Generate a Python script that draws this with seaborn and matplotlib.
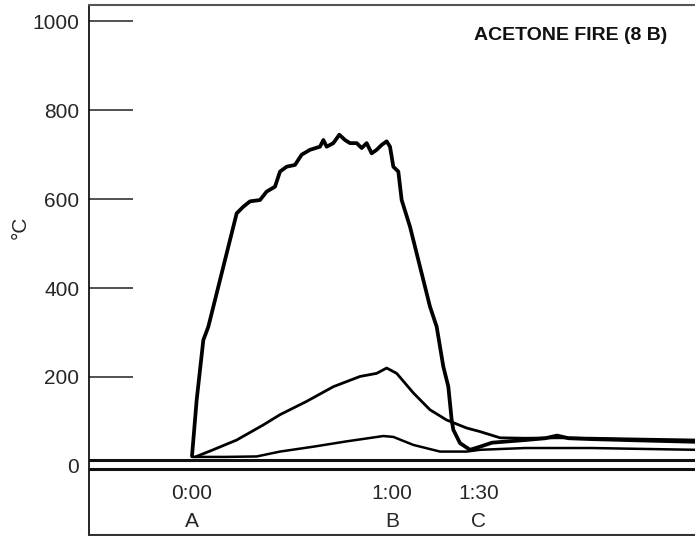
import numpy as np
import pandas as pd
import seaborn as sns
import matplotlib.pyplot as plt

# ---- Data (time in s, temperature in °C) ----
big_t = [0, 1.4, 3.4, 4.9, 6.4, 9.4, 11.4, 12.4, 13.4, 15.4, 17.4, 20.4, 22.4, 24.9,
         26.4, 28.4, 30.9, 32.9, 35.4, 38.4, 39.4, 40.4, 42.4, 44.2, 45.9, 47.4, 49.4,
         50.9, 52.4, 53.9, 55.4, 56.9, 58.4, 59.4, 60.4, 61.9, 62.9, 65.4, 68.4, 71.4,
         73.4, 75.4, 76.9, 77.9, 78.4, 80.4, 83.4, 86.4, 90, 100, 106, 109.5, 113, 120,
         135, 151]
big_temp = [22, 148, 283, 313, 358, 448, 508, 538, 568, 583, 595, 598, 617, 628,
            662, 673, 677, 700, 711, 718, 733, 718, 726, 745, 733, 726, 726,
            715, 726, 703, 711, 722, 730, 718, 673, 662, 598, 538, 448, 358,
            313, 223, 178, 103, 81, 51, 36, 43, 52, 58, 62, 68, 62, 60,
            57, 54]

mid_t = [1, 6, 13.4, 21.4, 26.4, 34.4, 42.4, 50.4, 55.4, 58.4, 61.4, 66.4, 71.4,
         76.4, 82.4, 86.4, 92.4, 100, 110, 120, 135, 151]
mid_temp = [20, 35, 58, 92, 115, 145, 178, 201, 208, 220, 208, 164, 126,
            103, 85, 77, 63, 62, 63, 62, 60, 58]

low_t = [0, 10, 19.4, 26.4, 36.4, 46.4, 57.4, 60.4, 66.4, 74.4, 82.4, 86.4, 100,
         120, 135, 151]
low_temp = [20, 20, 21, 32, 43, 55, 67, 65, 47, 32, 32, 36, 40,
            40, 38, 36]

baseline_levels = [14, -8]

y_ticks = [0, 200, 400, 600, 800, 1000]
x_ticks = [0, 60, 86]
x_labels = ["0:00\nA", "1:00\nB", "1:30\nC"]
title = "ACETONE FIRE (8 B)"

# ---- Style ----
sns.set_style("white")
plt.rcParams['font.family'] = ['Liberation Sans', 'DejaVu Sans']

fig = plt.figure(figsize=(6.95, 5.36), dpi=100)
ax = fig.add_axes([89 / 695, 1 / 536, 606 / 695, 530 / 536])

# curves
sns.lineplot(x=big_t, y=big_temp, ax=ax, color='black', lw=2.7)
sns.lineplot(x=mid_t, y=mid_temp, ax=ax, color='black', lw=2.0)
sns.lineplot(x=low_t, y=low_temp, ax=ax, color='black', lw=1.8)

# double baseline
for lev in baseline_levels:
    ax.axhline(lev, color='#111111', lw=2.2, zorder=3)

ax.set_xlim(-30.9, 150.9)
ax.set_ylim(-155.7, 1036.8)

# y axis: long inward ticks
ax.set_yticks(y_ticks)
ax.tick_params(axis='y', direction='in', length=32, width=1.2, color='#333333',
               labelsize=15, pad=7, left=True)
ax.yaxis.get_major_ticks()[0].tick1line.set_visible(False)

# x axis labels sit inside the frame
ax.set_xticks(x_ticks)
ax.set_xticklabels(x_labels)
ax.tick_params(axis='x', length=0, labelsize=15, pad=-37)
for lab in ax.get_xticklabels():
    lab.set_linespacing(1.6)

ax.set_xlabel("")
ax.set_ylabel("°C", fontsize=15)
ax.yaxis.set_label_coords(-0.097, 0.58)

ax.text(0.955, 0.943, title, transform=ax.transAxes, ha='right', va='center',
        fontsize=14, fontweight='bold', color='#111111')

ax.spines['left'].set_color('black')
ax.spines['left'].set_linewidth(1.2)
ax.spines['top'].set_color('#555555')
ax.spines['top'].set_linewidth(1.5)
ax.spines['bottom'].set_color('#333333')
ax.spines['bottom'].set_linewidth(1.5)
ax.spines['right'].set_visible(False)

fig.savefig("out.png", dpi=100)
